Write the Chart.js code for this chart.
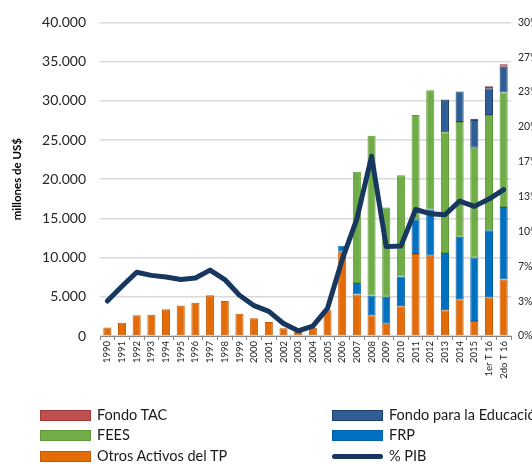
<!DOCTYPE html>
<html>
<head>
<meta charset="utf-8">
<script src="https://cdn.jsdelivr.net/npm/chart.js@4.4.1/dist/chart.umd.min.js"></script>
<style>
  html, body { margin: 0; padding: 0; background: #fff; overflow: hidden; width: 532px; height: 464px; }
  #wrap { position: relative; width: 580px; height: 464px; }
  #legend { position: absolute; left: 0; top: 0; font-family: Lato, sans-serif; font-size: 14.5px; color: #1a1a1a; }
  .item { position: absolute; height: 18px; line-height: 18px; white-space: nowrap; padding-left: 57px; }
  .sw { position: absolute; left: 0; top: 4px; width: 49px; height: 9px; border: 1px solid; }
  .ln { position: absolute; left: 0; top: 7px; width: 51px; height: 5px; border-radius: 3px; }
</style>
</head>
<body>
<div id="wrap">
  <canvas id="myChart" width="580" height="464"></canvas>
  <div id="legend"></div>
</div>
<script>
const categories = ["1990", "1991", "1992", "1993", "1994", "1995", "1996", "1997", "1998", "1999",
  "2000", "2001", "2002", "2003", "2004", "2005", "2006", "2007", "2008", "2009",
  "2010", "2011", "2012", "2013", "2014", "2015", "1er T 16", "2do T 16"];

// millones de US$
const otrosActivos = [1100, 1700, 2650, 2700, 3400, 3900, 4250, 5200, 4450, 2850,
  2250, 1800, 1000, 500, 1050, 3300, 10750, 5300, 2650, 1550,
  3800, 10450, 10250, 3300, 4700, 1900, 4950, 7200];
const frp = [0, 0, 0, 0, 0, 0, 0, 0, 0, 0,
  0, 0, 0, 0, 0, 0, 750, 1450, 2500, 3450,
  3800, 4450, 5900, 7300, 7950, 8100, 8550, 9250];
const fees = [0, 0, 0, 0, 0, 0, 0, 0, 0, 0,
  0, 0, 0, 0, 0, 0, 0, 14200, 20400, 11400,
  12900, 13300, 15200, 15400, 14650, 14000, 14700, 14600];
const fondoEducacion = [0, 0, 0, 0, 0, 0, 0, 0, 0, 0,
  0, 0, 0, 0, 0, 0, 0, 0, 0, 0,
  0, 0, 0, 4150, 3900, 3550, 3400, 3300];
const fondoTAC = [0, 0, 0, 0, 0, 0, 0, 0, 0, 0,
  0, 0, 0, 0, 0, 0, 0, 0, 0, 0,
  0, 0, 0, 0, 0, 150, 250, 300];

// % PIB
const pctPIB = [3.35, 4.75, 6.1, 5.8, 5.65, 5.4, 5.55, 6.3, 5.4, 3.9,
  2.9, 2.35, 1.2, 0.5, 0.95, 2.65, 7.3, 11.2, 17.2, 8.55,
  8.6, 12.1, 11.7, 11.6, 12.9, 12.4, 13.1, 14.0];

const pctTicks = ["0%", "3%", "7%", "10%", "13%", "17%", "20%", "23%", "27%", "30%"];

Chart.defaults.font.family = "Lato, sans-serif";
Chart.defaults.color = "#404040";

const bar = (label, data, bg, border) => ({
  type: "bar",
  label: label,
  data: data,
  backgroundColor: bg,
  borderColor: border,
  borderWidth: 1,
  borderSkipped: false,
  barPercentage: 0.55,
  categoryPercentage: 1,
  yAxisID: "y",
  order: 1,
});

const datasets = [
  bar("Otros Activos del TP", otrosActivos, "#e36c09", "#c45a06"),
  bar("FRP", frp, "#0070c0", "#0062a8"),
  bar("FEES", fees, "#70ad47", "#5e9a38"),
  bar("Fondo para la Educación", fondoEducacion, "#2f5e96", "#1f406b"),
  bar("Fondo TAC", fondoTAC, "#c0504d", "#9e3b39"),
  {
    type: "line",
    label: "% PIB",
    data: pctPIB,
    borderColor: "#17375e",
    borderWidth: 5,
    pointRadius: 0,
    tension: 0,
    borderJoinStyle: "round",
    borderCapStyle: "round",
    fill: false,
    yAxisID: "y1",
    order: 0,
  },
];

const ctx = document.getElementById("myChart");

const myChart = new Chart(ctx, {
  data: { labels: categories, datasets: datasets },
  options: {
    responsive: false,
    animation: false,
    devicePixelRatio: 1,
    layout: { padding: { top: 20, bottom: 83, left: 0, right: 0 } },
    plugins: { legend: { display: false }, tooltip: { enabled: false } },
    scales: {
      x: {
        stacked: true,
        border: { color: "#868686", width: 1 },
        grid: { drawOnChartArea: false, tickLength: 4, color: "#868686" },
        ticks: {
          minRotation: 90,
          maxRotation: 90,
          autoSkip: false,
          padding: 1,
          color: "#262626",
          font: { size: 9.5 },
        },
        afterFit: (scale) => { scale.height = 45; },
      },
      y: {
        stacked: true,
        position: "left",
        min: 0,
        max: 40000,
        border: { display: false },
        grid: { color: "#d9d9d9", lineWidth: 1.5, drawTicks: false },
        ticks: {
          stepSize: 5000,
          padding: 14,
          color: "#262626",
          font: { size: 14 },
          callback: (v) => String(v).replace(/\B(?=(\d{3})+(?!\d))/g, "."),
        },
        title: {
          display: true,
          text: "millones de US$",
          color: "#000",
          padding: { top: 10, bottom: 0 },
          font: { size: 11.5, weight: "bold" },
        },
        afterFit: (scale) => { scale.width = 100; },
      },
      y1: {
        position: "right",
        min: 0,
        max: 30,
        border: { display: false },
        grid: { drawOnChartArea: false, drawTicks: false },
        afterBuildTicks: (scale) => {
          scale.ticks = pctTicks.map((t, i) => ({ value: i * 30 / 9 }));
        },
        ticks: {
          padding: 7,
          color: "#262626",
          font: { size: 10.5 },
          callback: (v, i) => pctTicks[i],
        },
        afterFit: (scale) => { scale.width = 69; },
      },
    },
  },
});

// legend, two columns like the original
const legendRows = [
  { ds: 4, x: 40, y: 415 }, { ds: 3, x: 332, y: 415 },
  { ds: 2, x: 40, y: 435 }, { ds: 1, x: 332, y: 435 },
  { ds: 0, x: 40, y: 456 }, { ds: 5, x: 332, y: 456 },
];
const legend = document.getElementById("legend");
legendRows.forEach((r) => {
  const d = datasets[r.ds];
  const item = document.createElement("div");
  item.className = "item";
  item.style.left = r.x + "px";
  item.style.top = (r.y - 9) + "px";
  const sw = document.createElement("span");
  if (d.type === "line") {
    sw.className = "ln";
    sw.style.background = d.borderColor;
  } else {
    sw.className = "sw";
    sw.style.background = d.backgroundColor;
    sw.style.borderColor = d.borderColor;
  }
  item.appendChild(sw);
  item.appendChild(document.createTextNode(d.label));
  legend.appendChild(item);
});
</script>
</body>
</html>
